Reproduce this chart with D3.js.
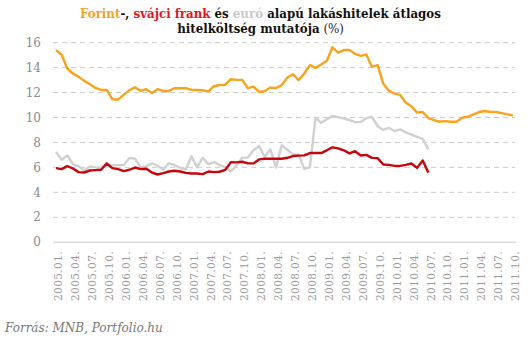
<!DOCTYPE html>
<html><head><meta charset="utf-8">
<script src="https://cdn.jsdelivr.net/npm/d3@7"></script>
<style>
html,body{margin:0;padding:0;background:#fff;}
svg{display:block;}
</style></head>
<body>
<svg id="chart" width="531" height="342"></svg>
<script>
// months 2005.01 .. 2011.10
const months = [];
for (let y = 2005; y <= 2011; y++) for (let m = 1; m <= 12; m++) {
  if (y === 2011 && m > 10) break;
  months.push(y + "." + String(m).padStart(2, "0") + ".");
}
const forint = [15.4,15.03,13.93,13.53,13.26,12.94,12.67,12.37,12.21,12.21,
11.46,11.44,11.81,12.19,12.43,12.13,12.27,11.97,12.27,12.13,
12.13,12.35,12.35,12.35,12.21,12.21,12.19,12.1,12.51,12.61,
12.63,13.07,13.02,13.02,12.35,12.48,12.05,12.13,12.4,12.37,
12.6,13.2,13.47,12.99,13.53,14.2,13.98,14.25,14.55,15.63,
15.2,15.41,15.41,15.11,14.95,15.06,14.06,14.2,12.72,12.13,
11.92,11.81,11.19,10.9,10.39,10.44,9.95,9.79,9.66,9.71,
9.66,9.66,9.99,10.06,10.25,10.44,10.52,10.44,10.44,10.35,
10.25,10.17];
const frank = [5.94,5.86,6.1,5.91,5.62,5.59,5.75,5.78,5.81,6.32,
5.94,5.86,5.7,5.81,5.99,5.86,5.89,5.59,5.43,5.54,
5.67,5.73,5.67,5.56,5.51,5.51,5.46,5.67,5.62,5.65,
5.81,6.42,6.4,6.45,6.32,6.32,6.64,6.69,6.69,6.69,
6.69,6.77,6.91,6.94,6.96,7.15,7.15,7.15,7.37,7.61,
7.53,7.37,7.12,7.3,6.95,7.0,6.76,6.74,6.23,6.2,
6.12,6.12,6.2,6.31,5.96,6.55,5.58];
const euro = [7.23,6.61,6.96,6.26,6.08,5.75,6.08,6.0,5.97,6.16,
6.16,6.18,6.18,6.75,6.69,6.02,6.08,6.32,6.13,5.81,
6.32,6.18,5.97,5.83,6.88,6.02,6.77,6.26,6.42,6.18,
6.02,5.67,6.16,6.77,6.8,7.37,7.72,6.83,7.45,6.0,
7.77,7.42,7.02,7.04,5.89,6.0,10.0,9.57,9.87,10.11,
10.03,9.92,9.8,9.63,9.65,9.95,10.05,9.3,9.0,9.16,
8.92,9.05,8.8,8.62,8.45,8.28,7.44];
const yTicks = [0,2,4,6,8,10,12,14,16];
const xTickLabels = months.filter((d,i) => i % 3 === 0);

const svg = d3.select("#chart");
const serif = "Georgia, 'DejaVu Serif', serif";
const titleFont = "Georgia, 'DejaVu Serif Condensed', 'DejaVu Serif', serif";

const x = d3.scalePoint().domain(months).range([56, 513]);
const y = d3.scaleLinear().domain([0, 16]).range([242.2, 42.7]);

// gridlines
const gridX0 = 53, gridX1 = 515;
svg.append("g").selectAll("line").data(yTicks.filter(d => d > 0)).join("line")
  .attr("x1", gridX0).attr("x2", gridX1)
  .attr("y1", d => y(d)).attr("y2", d => y(d))
  .attr("stroke", "#cccccc").attr("stroke-width", 1)
  .attr("stroke-dasharray", "5,4");
svg.append("line").attr("x1", gridX0).attr("x2", gridX1 + 1)
  .attr("y1", y(0)).attr("y2", y(0)).attr("stroke", "#cccccc").attr("stroke-width", 1);

// y labels
svg.append("g").selectAll("text").data(yTicks).join("text")
  .attr("x", 41).attr("y", d => y(d)).attr("dy", "0.35em")
  .attr("text-anchor", "end").attr("font-family", serif).attr("font-size", 12)
  .attr("fill", "#8a8a8a").text(d => d);

// x labels
svg.append("g").selectAll("text").data(xTickLabels).join("text")
  .attr("transform", d => `translate(${x(d) + 2.5},251) rotate(-90)`)
  .attr("dy", "0.35em")
  .attr("text-anchor", "end").attr("font-family", serif).attr("font-size", 10.5)
  .attr("fill", "#9a9a9a").attr("letter-spacing", 0.4).text(d => d);

// lines
const line = d3.line().x((d,i) => x(months[i])).y(d => y(d));
const series = [
  {vals: euro, color: "#d0d0d0"},
  {vals: frank, color: "#c8040c"},
  {vals: forint, color: "#f8a21e"}
];
svg.append("g").selectAll("path").data(series).join("path")
  .attr("d", d => line(d.vals)).attr("fill", "none")
  .attr("stroke", d => d.color).attr("stroke-width", 2.4)
  .attr("stroke-linejoin", "round");

// title
function fitText(sel, target) {
  const w = sel.node().getComputedTextLength();
  const fs = parseFloat(sel.attr("font-size"));
  sel.attr("font-size", fs * target / w);
}
const t1 = svg.append("text").attr("x", 260.5).attr("y", 18).attr("text-anchor", "middle")
  .attr("font-family", titleFont).attr("font-weight", "bold").attr("font-size", 13).attr("fill", "#111");
t1.append("tspan").attr("fill", "#f8a21e").text("Forint");
t1.append("tspan").text("-, ");
t1.append("tspan").attr("fill", "#e8141b").text("svájci frank");
t1.append("tspan").text(" és ");
t1.append("tspan").attr("fill", "#c8c8c8").text("euró");
t1.append("tspan").text(" alapú lakáshitelek átlagos");
fitText(t1, 361);
const t2 = svg.append("text").attr("x", 260.5).attr("y", 33).attr("text-anchor", "middle")
  .attr("font-family", titleFont).attr("font-weight", "bold").attr("font-size", 13).attr("fill", "#111");
t2.append("tspan").text("hitelköltség mutatója");
t2.append("tspan").attr("font-weight", "normal").attr("fill", "#1a1a3a").text(" (%)");
t2.attr("font-size", t1.attr("font-size"));

// footer
const f = svg.append("text").attr("x", 5).attr("y", 332)
  .attr("font-family", serif).attr("font-style", "italic").attr("font-size", 13)
  .attr("fill", "#777").text("Forrás: MNB, Portfolio.hu");
fitText(f, 158);
</script>
</body></html>
